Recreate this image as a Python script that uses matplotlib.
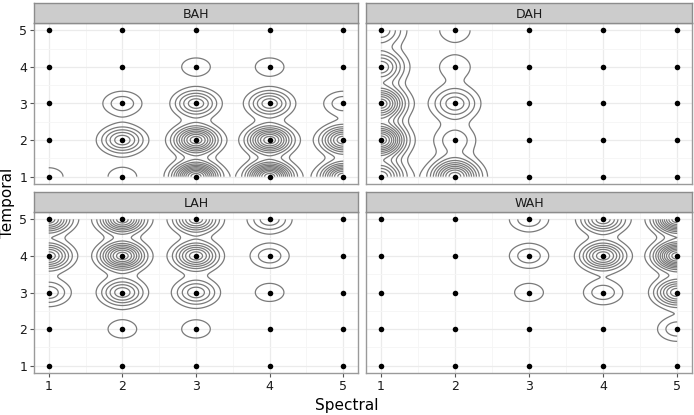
import matplotlib
matplotlib.use("Agg")
import matplotlib.pyplot as plt
import numpy as np

# grid levels on both axes
SPECTRAL = [1, 2, 3, 4, 5]
TEMPORAL = [1, 2, 3, 4, 5]
PANELS = ["BAH", "DAH", "LAH", "WAH"]

# observation counts, rows = temporal 1..5 (bottom to top), cols = spectral 1..5
BAH = [
    [2, 2, 13, 13, 11],
    [1, 6, 10, 10, 9],
    [1, 3, 6, 6, 3],
    [1, 1, 2, 2, 1],
    [1, 1, 1, 1, 1],
]
DAH = [
    [9, 11, 1, 1, 1],
    [13, 3, 1, 1, 1],
    [11, 5, 1, 1, 1],
    [7, 2, 1, 1, 1],
    [5, 2, 1, 1, 1],
]
LAH = [
    [1, 1, 1, 1, 1],
    [1, 2, 2, 1, 1],
    [4, 6, 5, 2, 1],
    [8, 10, 8, 3, 1],
    [9, 10, 8, 4, 1],
]
WAH = [
    [1, 1, 1, 1, 1],
    [1, 1, 1, 1, 3],
    [1, 1, 2, 3, 8],
    [1, 1, 3, 8, 12],
    [1, 1, 3, 7, 12],
]
COUNTS = {"BAH": BAH, "DAH": DAH, "LAH": LAH, "WAH": WAH}

# kernel bandwidths (sd in x, sd in y) per panel
BANDWIDTH = {"BAH": (0.2, 0.25), "DAH": (0.21, 0.3), "LAH": (0.2, 0.25), "WAH": (0.2, 0.25)}
LEVELS = np.arange(1.25, 40, 1.0)


def density(counts, sx, sy):
    gx = np.linspace(min(SPECTRAL), max(SPECTRAL), 241)
    gy = np.linspace(min(TEMPORAL), max(TEMPORAL), 241)
    X, Y = np.meshgrid(gx, gy)
    Z = np.zeros_like(X)
    for r, t in enumerate(TEMPORAL):
        for c, s in enumerate(SPECTRAL):
            Z += counts[r][c] * np.exp(-((X - s) ** 2 / (2 * sx ** 2) + (Y - t) ** 2 / (2 * sy ** 2)))
    return X, Y, Z


W, H = 694, 415
fig = plt.figure(figsize=(W / 100, H / 100), dpi=100)

# panel boxes in pixels: left, top, right, bottom
boxes = {
    "BAH": (34, 23, 358, 184),
    "DAH": (366, 23, 692, 184),
    "LAH": (34, 212, 358, 373),
    "WAH": (366, 212, 692, 373),
}
STRIP_H = 20
border = "#9a9a9a"

for name in PANELS:
    l, t, r, b = boxes[name]
    ax = fig.add_axes([l / W, 1 - b / H, (r - l) / W, (b - t) / H])
    sax = fig.add_axes([l / W, 1 - t / H, (r - l) / W, STRIP_H / H])

    sax.set_facecolor("#cccccc")
    sax.set_xticks([])
    sax.set_yticks([])
    for sp in sax.spines.values():
        sp.set_color("#8c8c8c")
        sp.set_linewidth(1.0)
    sax.text(0.5, 0.45, name, ha="center", va="center", fontsize=9, color="#1a1a1a",
             transform=sax.transAxes)

    ax.set_xlim(0.8, 5.2)
    ax.set_ylim(0.8, 5.2)
    ax.set_xticks(SPECTRAL)
    ax.set_yticks(TEMPORAL)
    ax.set_xticks([1.5, 2.5, 3.5, 4.5], minor=True)
    ax.set_yticks([1.5, 2.5, 3.5, 4.5], minor=True)
    ax.grid(True, which="major", color="#ebebeb", linewidth=0.9)
    ax.grid(True, which="minor", color="#f5f5f5", linewidth=0.6)
    ax.set_axisbelow(True)
    for sp in ax.spines.values():
        sp.set_color(border)
        sp.set_linewidth(1.0)
    ax.tick_params(which="major", length=3, color="#555555", labelsize=9, labelcolor="#1a1a1a", pad=2)
    ax.tick_params(which="minor", length=0)
    if name in ("BAH", "DAH"):
        ax.tick_params(axis="x", labelbottom=False, length=0)
    if name in ("DAH", "WAH"):
        ax.tick_params(axis="y", labelleft=False, length=0)

    sx, sy = BANDWIDTH[name]
    X, Y, Z = density(COUNTS[name], sx, sy)
    ax.contour(X, Y, Z, levels=LEVELS, colors="#7a7a7a", linewidths=0.9)

    px, py = np.meshgrid(SPECTRAL, TEMPORAL)
    ax.scatter(px.ravel(), py.ravel(), s=16, color="black", zorder=5, linewidths=0)

fig.text(0.5, 1 - 405 / H, "Spectral", ha="center", va="center", fontsize=11)
fig.text(8 / W, 0.5 + 0.01, "Temporal", ha="center", va="center", rotation=90, fontsize=11)

fig.savefig("out.png", dpi=100)
